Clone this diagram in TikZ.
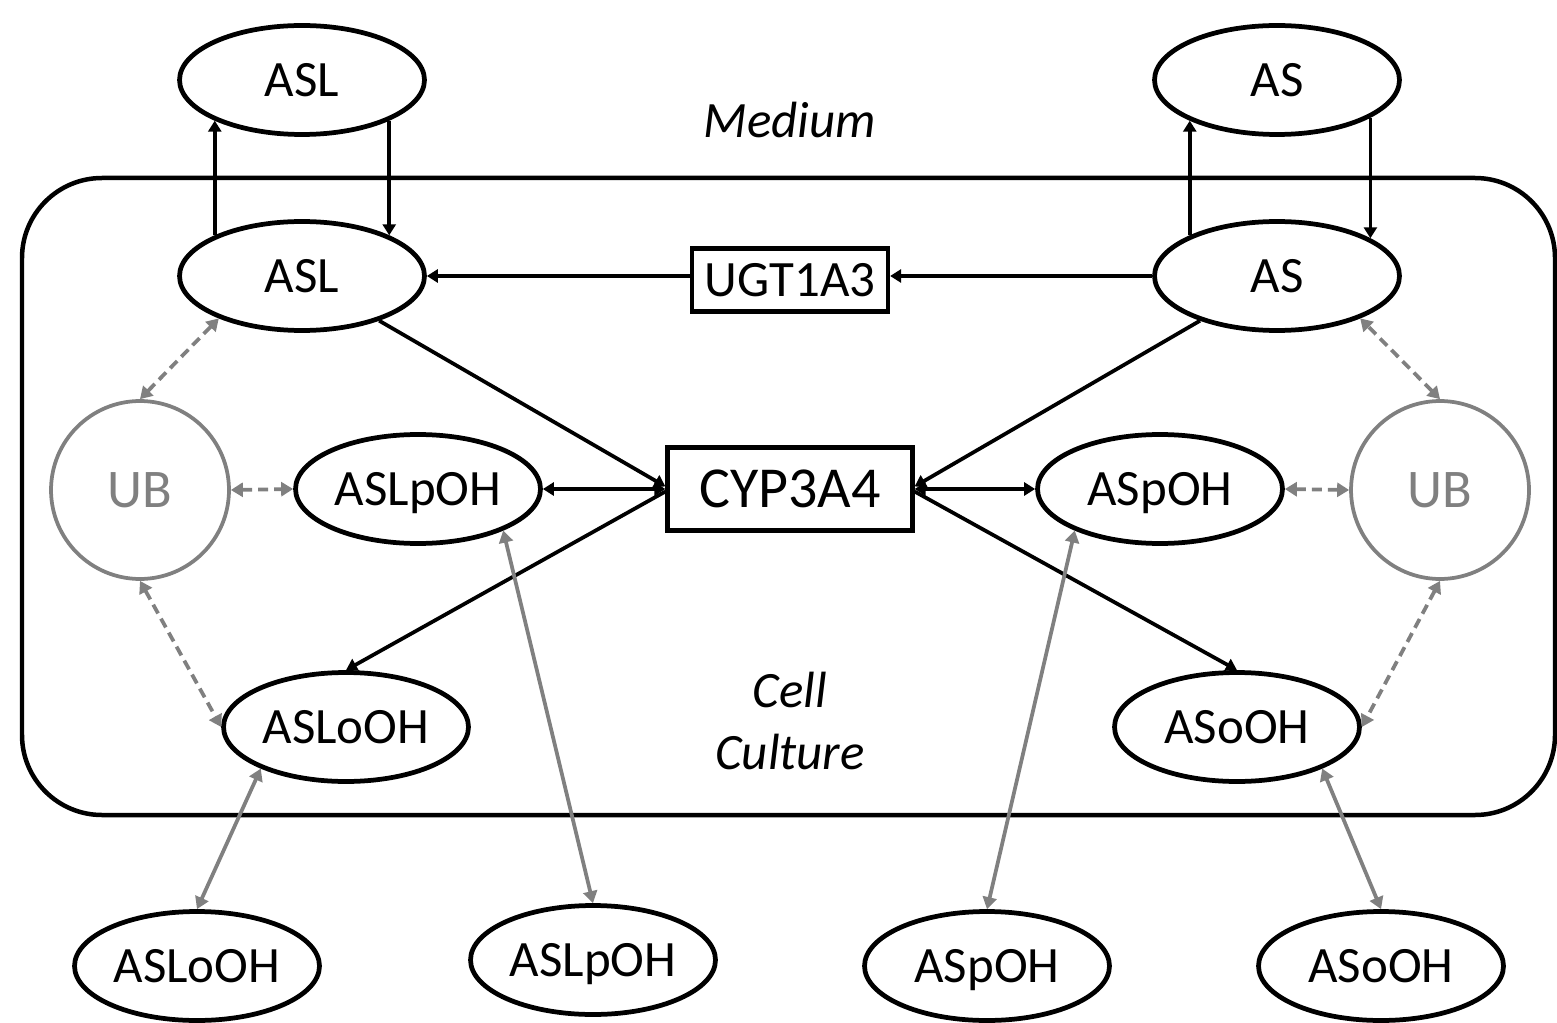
\documentclass[tikz,border=0pt]{standalone}
\usepackage{fontspec}
\setmainfont{Carlito}
\usetikzlibrary{shapes.geometric,arrows.meta}
\definecolor{ubgray}{RGB}{128,128,128}
\begin{document}
\begin{tikzpicture}[x=0.02cm,y=-0.02cm,
  txt/.style={font=\fontsize{29}{29}\selectfont},
  oval/.style={ellipse,draw,line width=0.095cm,minimum width=4.9cm,minimum height=2.18cm,inner sep=0pt,text depth=0pt,txt},
  enz/.style={rectangle,draw,line width=0.085cm,inner sep=0pt},
  ubnode/.style={circle,draw=ubgray,line width=0.075cm,minimum size=3.56cm,inner sep=0pt,text=ubgray,font=\fontsize{31}{31}\selectfont},
  flow/.style={line width=0.075cm,-{Triangle[length=0.22cm,width=0.26cm]}},
  biflow/.style={line width=0.075cm,{Triangle[length=0.22cm,width=0.26cm]}-{Triangle[length=0.22cm,width=0.26cm]}},
  bind/.style={draw=ubgray,line width=0.075cm,dash pattern=on 0.2cm off 0.12cm,{Triangle[length=0.24cm,width=0.28cm]}-{Triangle[length=0.24cm,width=0.28cm]}},
  xfer/.style={draw=ubgray,line width=0.075cm,{Triangle[length=0.24cm,width=0.28cm]}-{Triangle[length=0.24cm,width=0.28cm]}},
  label/.style={font=\fontsize{29}{29}\selectfont\itshape}
]
\useasboundingbox (0,0) rectangle (1557,1023);

% cell compartment
\draw[line width=0.09cm,rounded corners=1.6cm] (22,178) rectangle (1555,815);

% compartment labels
\node[label] (medium) at (790,120) {Medium};
\node[label] (cell) at (790,690) {Cell};
\node[label] (culture) at (790,752) {Culture};

% medium species
\node[oval] (asltop) at (302,80) {ASL};
\node[oval] (astop) at (1277,80) {AS};

% intracellular species
\node[oval] (aslin) at (302,276) {ASL};
\node[oval] (asin) at (1277,276) {AS};
\node[oval] (aslp) at (418,489) {ASLpOH};
\node[oval] (asp) at (1160,489) {ASpOH};
\node[oval] (aslo) at (346,727) {ASLoOH};
\node[oval] (aso) at (1237,727) {ASoOH};

% enzymes
\node[enz,minimum width=3.92cm,minimum height=1.26cm,txt] (ugt) at (790,280) {UGT1A3};
\node[enz,minimum width=4.9cm,minimum height=1.66cm,font=\fontsize{33}{33}\selectfont] (cyp) at (790,489) {CYP3A4};

% unbound pools
\node[ubnode] (ubl) at (140,490) {UB};
\node[ubnode] (ubr) at (1440,490) {UB};

% medium-side metabolites
\node[oval] (aslobot) at (197,966) {ASLoOH};
\node[oval] (aslpbot) at (593,960) {ASLpOH};
\node[oval] (aspbot) at (987,966) {ASpOH};
\node[oval] (asobot) at (1381,966) {ASoOH};

% uptake and efflux
\draw[flow] (aslin.155) -- (asltop.205);
\draw[flow] (asltop.335) -- (aslin.25);
\draw[flow] (asin.155) -- (astop.205);
\draw[flow] (astop.338) -- (asin.22);

% glucuronidation
\draw[flow] (asin.west) -- (asin.west -| ugt.east);
\draw[flow] (asin.west -| ugt.west) -- (aslin.east);

% CYP3A4 metabolism
\draw[flow] (aslin) -- ([yshift=0.05cm]cyp.west);
\draw[flow] (asin) -- ([yshift=0.05cm]cyp.east);
\draw[biflow] (cyp.west) -- (aslp.east);
\draw[biflow] (cyp.east) -- (asp.west);
\draw[flow] ([yshift=-0.05cm]cyp.west) -- (aslo.north);
\draw[flow] ([yshift=-0.05cm]cyp.east) -- (aso.north);

% binding equilibria
\draw[bind] (ubl.north) -- (aslin.207);
\draw[bind] (ubl.east) -- (aslp.west);
\draw[bind] (ubl.south) -- (aslo.west);
\draw[bind] (ubr.north) -- (asin.333);
\draw[bind] (ubr.west) -- (asp.east);
\draw[bind] (ubr.south) -- (aso.east);

% exchange with the medium
\draw[xfer] (aslo.206) -- (aslobot.north);
\draw[xfer] (aslp.334) -- (aslpbot.north);
\draw[xfer] (asp.206) -- (aspbot.north);
\draw[xfer] (aso.334) -- (asobot.north);
\end{tikzpicture}
\end{document}
